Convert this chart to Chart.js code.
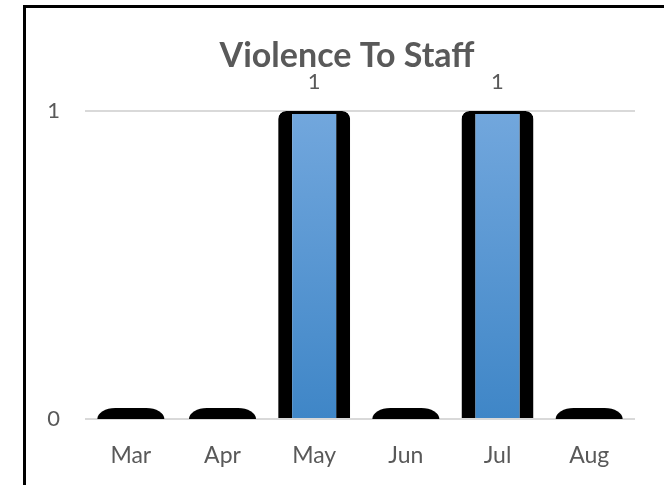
<!DOCTYPE html>
<html>
<head>
<meta charset="utf-8">
<script src="https://cdn.jsdelivr.net/npm/chart.js@4/dist/chart.umd.min.js"></script>
<style>
  html, body { margin: 0; padding: 0; background: #fff; }
  #frame {
    position: absolute; left: 23px; top: 5px; width: 700px; height: 520px;
    border-left: 3px solid #000; border-top: 3px solid #000;
  }
  #chart { position: absolute; left: 0; top: 0; }
</style>
</head>
<body>
<div id="frame"></div>
<canvas id="chart" width="664" height="485"></canvas>
<script>
const chartTitle = 'Violence To Staff';
const months = ['Mar', 'Apr', 'May', 'Jun', 'Jul', 'Aug'];
const incidents = [0, 0, 1, 0, 1, 0];
const yTicks = [0, 1];

const textGrey = '#595959';

// Excel draws zero bars with a thick outline as a little black hump on the axis
const zeroHumps = {
    id: 'zeroHumps',
    afterDatasetsDraw(chart) {
        const ctx = chart.ctx;
        const meta = chart.getDatasetMeta(0);
        ctx.save();
        ctx.fillStyle = '#000';
        meta.data.forEach((bar, i) => {
            if (incidents[i] !== 0) return;
            const w = bar.width - 5;
            ctx.beginPath();
            ctx.roundRect(bar.x - w / 2, bar.base - 11, w, 11, [{x: 18, y: 11}, {x: 18, y: 11}, 0, 0]);
            ctx.fill();
        });
        ctx.restore();
    }
};

// value labels above the non-zero bars
const valueLabels = {
    id: 'valueLabels',
    afterDatasetsDraw(chart) {
        const ctx = chart.ctx;
        const meta = chart.getDatasetMeta(0);
        ctx.save();
        ctx.fillStyle = textGrey;
        ctx.font = '22px Lato';
        ctx.textAlign = 'center';
        ctx.textBaseline = 'middle';
        meta.data.forEach((bar, i) => {
            if (incidents[i] === 0) return;
            ctx.fillText(String(incidents[i]), bar.x, bar.y - 29);
        });
        ctx.restore();
    }
};

// title sits centred on the whole frame, not on the plot area
const frameTitle = {
    id: 'frameTitle',
    afterDraw(chart) {
        const ctx = chart.ctx;
        ctx.save();
        ctx.fillStyle = textGrey;
        ctx.font = 'bold 34px Lato';
        ctx.textAlign = 'center';
        ctx.textBaseline = 'alphabetic';
        ctx.fillText(chartTitle, 347, 67);
        ctx.restore();
    }
};

new Chart(document.getElementById('chart'), {
    type: 'bar',
    data: {
        labels: months,
        datasets: [{
            data: incidents,
            backgroundColor: c => {
                const a = c.chart.chartArea;
                if (!a) return '#5b9bd5';
                const g = c.chart.ctx.createLinearGradient(0, a.top, 0, a.bottom);
                g.addColorStop(0, '#72a7dd');
                g.addColorStop(1, '#3f86c7');
                return g;
            },
            borderColor: '#000',
            borderWidth: { left: 14, right: 14, top: 3, bottom: 0 },
            borderSkipped: 'start',
            borderRadius: { topLeft: 8, topRight: 8, bottomLeft: 0, bottomRight: 0 },
            categoryPercentage: 1,
            barPercentage: 0.785
        }]
    },
    options: {
        responsive: false,
        animation: false,
        layout: { padding: { left: 25, right: 29, top: 111, bottom: 0 } },
        plugins: {
            legend: { display: false },
            tooltip: { enabled: false },
            title: { display: false }
        },
        scales: {
            x: {
                grid: { display: false },
                border: { display: false },
                ticks: { color: textGrey, font: { family: 'Lato', size: 23 }, padding: 15 },
                afterFit: s => { s.height = 66; }
            },
            y: {
                min: 0,
                max: 1,
                grid: { color: '#d9d9d9', lineWidth: 2, drawTicks: false },
                border: { display: false },
                ticks: { color: textGrey, font: { family: 'Lato', size: 22 }, padding: 25 },
                afterBuildTicks: s => { s.ticks = yTicks.map(v => ({ value: v })); },
                afterFit: s => { s.width = 60; }
            }
        }
    },
    plugins: [zeroHumps, valueLabels, frameTitle]
});
</script>
</body>
</html>
